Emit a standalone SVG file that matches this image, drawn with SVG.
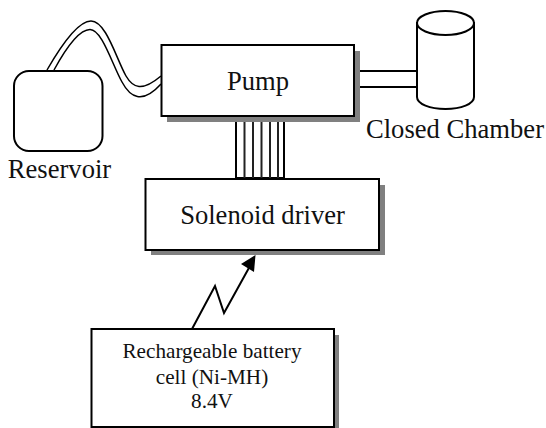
<svg xmlns="http://www.w3.org/2000/svg" width="546" height="428" viewBox="0 0 546 428">
<style>
.s{fill:#808080;stroke:none}
.b{fill:#fff;stroke:#000;stroke-width:2}
.l{fill:none;stroke:#000;stroke-width:1.500}
.c{fill:none;stroke:#222;stroke-width:2}
.p{fill:none;stroke:#000;stroke-width:2}
text{font-family:"Liberation Serif","Times New Roman",serif;fill:#111;text-anchor:middle}
.t{font-size:26.600px}
.m{font-size:21.200px}
</style>
<rect width="546" height="428" fill="#fff"/>
<g id="connectors">
<path class="l" d="M47 70C62 44 78 21 91 21C106 21 116 58 126 76C133 88 142 92 161 76"/>
<path class="l" d="M54 70C66 48 79 29.500 90 29.500C102 29.500 112 64 122 82C130 97 142 105 161 84"/>
<g id="coil-link">
<rect x="236" y="118" width="48" height="60" fill="#fff" stroke="#000" stroke-width="2"/>
<path class="c" d="M244.500 118V178M253 118V178M261.500 118V178M270 118V178M278 118V178"/>
</g>
<path class="p" d="M354 71H417M354 87H417"/>
<path d="M192 329L215 286L224 313L250 266" fill="none" stroke="#000" stroke-width="2"/>
<path d="M255.500 255L254 272L241 264Z" fill="#000"/>
</g>
<g id="reservoir">
<rect class="b" x="14" y="71" width="88.500" height="80" rx="15" ry="15"/>
<text class="t" x="59.500" y="178">Reservoir</text>
</g>
<g id="pump">
<rect class="s" x="167" y="51" width="193" height="71"/>
<rect class="b" x="161.500" y="45" width="192.500" height="71"/>
<text class="t" x="258" y="90">Pump</text>
</g>
<g id="solenoid-driver">
<rect class="s" x="151" y="185" width="234" height="70"/>
<rect class="b" x="145.500" y="179" width="233.500" height="71"/>
<text class="t" x="262.500" y="224">Solenoid driver</text>
</g>
<g id="closed-chamber">
<path class="b" d="M417 23V97C417 104 430 109 445.500 109C461 109 474 104 474 97V23Z"/>
<ellipse class="b" cx="445.500" cy="23" rx="28.500" ry="12"/>
<text class="t" x="455" y="138">Closed Chamber</text>
</g>
<g id="battery">
<rect class="s" x="97" y="335" width="242" height="93"/>
<rect class="b" x="91.500" y="329" width="242.500" height="98"/>
<text class="m" x="212" y="358">Rechargeable battery</text>
<text class="m" x="212" y="384">cell (Ni-MH)</text>
<text class="m" x="212" y="408">8.4V</text>
</g>
</svg>
